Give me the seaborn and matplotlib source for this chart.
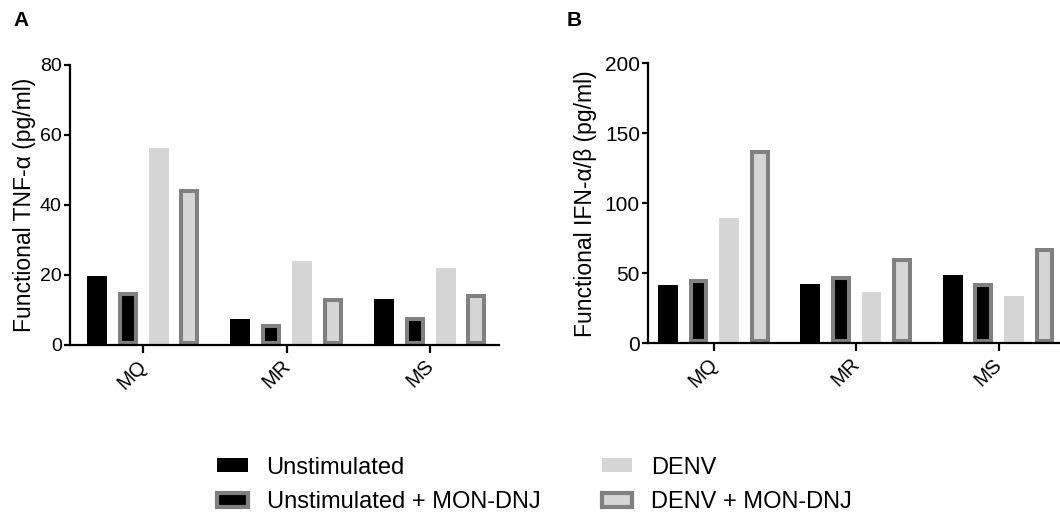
import matplotlib
matplotlib.use("Agg")
import matplotlib.pyplot as plt
from matplotlib.patches import Patch
from matplotlib.transforms import ScaledTranslation
import seaborn as sns
import pandas as pd

# Cell types and treatment groups
cell_types = ["MQ", "MR", "MS"]
treatments = ["Unstimulated", "Unstimulated + MON-DNJ", "DENV", "DENV + MON-DNJ"]

# Functional TNF-alpha (pg/ml), one list per treatment, ordered MQ, MR, MS
tnf_unstim = [19.7, 7.3, 13.2]
tnf_unstim_mon = [15.0, 6.0, 7.9]
tnf_denv = [56.2, 24.0, 22.1]
tnf_denv_mon = [44.5, 13.5, 14.5]

# Functional IFN-alpha/beta (pg/ml)
ifn_unstim = [41.7, 42.1, 48.6]
ifn_unstim_mon = [45.7, 48.1, 42.9]
ifn_denv = [89.3, 36.9, 34.0]
ifn_denv_mon = [137.9, 61.2, 68.3]

tnf_ticks = [0, 20, 40, 60, 80]
ifn_ticks = [0, 50, 100, 150, 200]

BLACK = "#000000"
LIGHT = "#d6d6d6"
EDGE = "#808080"
palette = {treatments[0]: BLACK, treatments[1]: BLACK,
           treatments[2]: LIGHT, treatments[3]: LIGHT}
bordered = {treatments[1], treatments[3]}


def long_table(series):
    rows = []
    for trt, vals in zip(treatments, series):
        for cell, v in zip(cell_types, vals):
            rows.append({"cell": cell, "treatment": trt, "value": v})
    return pd.DataFrame(rows)


sns.set_style("ticks")
plt.rcParams["font.family"] = ["Liberation Sans", "DejaVu Sans"]
plt.rcParams.update({"text.color": "black", "axes.labelcolor": "black",
                     "xtick.color": "black", "ytick.color": "black",
                     "axes.edgecolor": "black"})

fig = plt.figure(figsize=(10.6, 5.17), dpi=100)
ax_a = fig.add_axes([0.066, 0.3327, 0.4048, 0.5416])
ax_b = fig.add_axes([0.6116, 0.336, 0.3922, 0.5416])


def draw_panel(ax, df, ylabel, ticks, xlim, ytick_size, labelpad):
    sns.barplot(data=df, x="cell", y="value", hue="treatment",
                order=cell_types, hue_order=treatments, palette=palette,
                width=0.86, gap=0.35, saturation=1, legend=False,
                errorbar=None, linewidth=0, ax=ax)
    for trt, cont in zip(treatments, ax.containers):
        if trt in bordered:
            for bar in cont:
                bar.set_edgecolor(EDGE)
                bar.set_linewidth(5.8)
                # keep the border inside the bar outline
                bar.set_clip_path(bar)
    ax.set_xlim(*xlim)
    ax.set_ylim(ticks[0], ticks[-1])
    ax.set_yticks(ticks)
    ax.set_xlabel("")
    ax.set_ylabel(ylabel, fontsize=16.5, labelpad=labelpad)
    for side in ("top", "right"):
        ax.spines[side].set_visible(False)
    for side in ("left", "bottom"):
        ax.spines[side].set_linewidth(1.6)
    ax.tick_params(axis="y", length=4, width=1.6, labelsize=ytick_size, pad=2)
    ax.tick_params(axis="x", length=6, width=1.6, labelsize=14.5, pad=3)
    shift = ScaledTranslation(-6 / 100, 1 / 100, fig.dpi_scale_trans)
    for lab in ax.get_xticklabels():
        lab.set_rotation(45)
        lab.set_ha("right")
        lab.set_rotation_mode("anchor")
        lab.set_va("top")
        lab.set_transform(lab.get_transform() + shift)


draw_panel(ax_a, long_table([tnf_unstim, tnf_unstim_mon, tnf_denv, tnf_denv_mon]),
           "Functional TNF-α (pg/ml)", tnf_ticks, (-0.51, 2.48), 14, 3)
draw_panel(ax_b, long_table([ifn_unstim, ifn_unstim_mon, ifn_denv, ifn_denv_mon]),
           "Functional IFN-α/β (pg/ml)", ifn_ticks, (-0.46, 2.46), 15, 6)

fig.text(0.013, 0.961, "A", fontsize=15, fontweight="bold", va="center")
fig.text(0.535, 0.961, "B", fontsize=15, fontweight="bold", va="center")

handles = []
for trt in treatments:
    if trt in bordered:
        handles.append(Patch(facecolor=palette[trt], edgecolor=EDGE, linewidth=3, label=trt))
    else:
        handles.append(Patch(facecolor=palette[trt], edgecolor="none", label=trt))

fig.legend(handles=handles, loc="upper left", bbox_to_anchor=(0.2047, 0.117),
           ncol=2, frameon=False, fontsize=17, handlelength=1.3, handleheight=0.5,
           handletextpad=0.8, columnspacing=2.6, labelspacing=0.55,
           borderaxespad=0, borderpad=0)

fig.savefig("out.png", dpi=100)
